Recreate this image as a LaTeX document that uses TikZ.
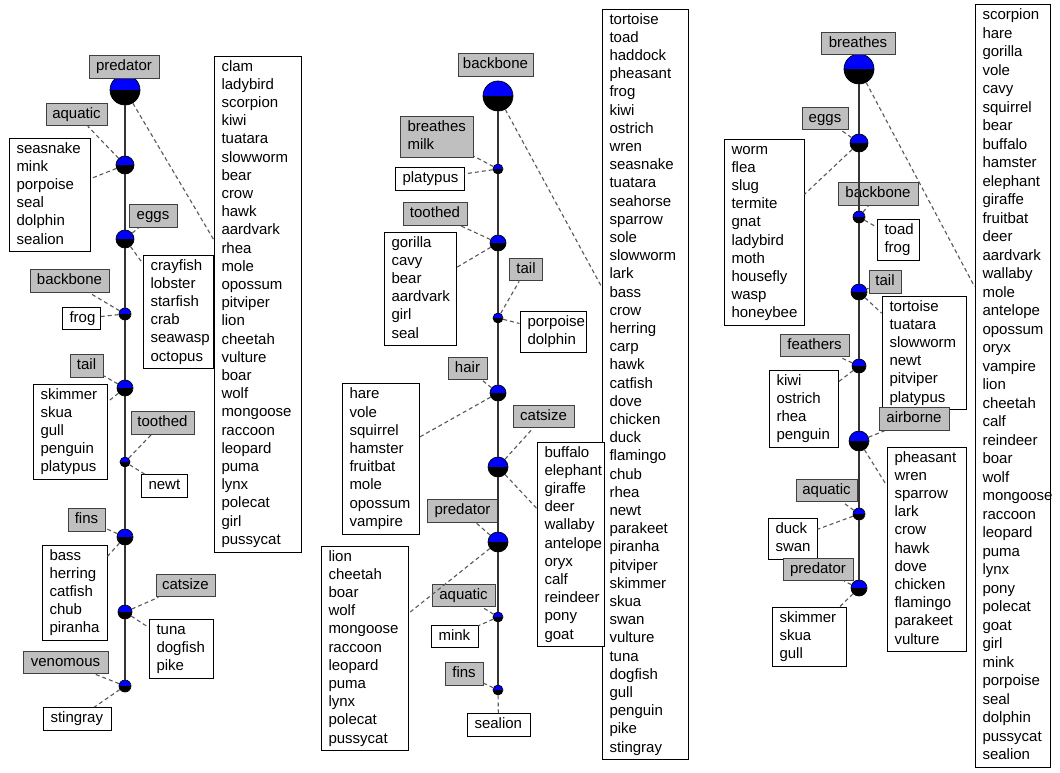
\documentclass[tikz,border=0pt]{standalone}
\usepackage{fontspec}
\setmainfont{Liberation Sans}
\usetikzlibrary{calc}
\begin{document}
\begin{tikzpicture}[x=1pt,y=-1pt,
  txt/.style={font=\fontsize{15}{18.2}\selectfont, execute at begin node={\hyphenpenalty=10000\strut}, execute at end node={\strut}, inner ysep=2.3pt},
  lbl/.style={txt, draw=black!75, fill=gray!50, line width=0.9pt, inner xsep=0pt, minimum width=#1},
  lst/.style={txt, draw=black, fill=white, line width=0.9pt, inner xsep=7.5pt, text width=#1, align=left},
  lst2/.style={lst=#1, draw=black!75, fill=gray!50},
  nd/.style={circle, draw=black, line width=0.7pt, inner sep=0pt, minimum size=#1,
    path picture={\fill[blue] (path picture bounding box.north west) rectangle (path picture bounding box.east);
                  \fill[black] (path picture bounding box.west) rectangle (path picture bounding box.south east);}},
  trunk/.style={draw=black!80, line width=1.3pt},
  dsh/.style={draw=black!65, line width=1.1pt, dash pattern=on 4pt off 3pt}
]
\fill[white] (0,0) rectangle (1060,773);
\useasboundingbox (0,0) rectangle (1060,773);

% ===== left tree =====
\node[nd=30] (L0) at (125,90) {};
\node[nd=18] (L1) at (125,165) {};
\node[nd=18] (L2) at (125,239) {};
\node[nd=12] (L3) at (125,314) {};
\node[nd=16] (L4) at (125,388) {};
\node[nd=10] (L5) at (125,462) {};
\node[nd=16] (L6) at (125,537) {};
\node[nd=14] (L7) at (125,612) {};
\node[nd=12] (L8) at (125,686) {};

\node[lbl=70] (Lpredl) at (124,67) {predator};
\node[lst=72pt] (Lbig) at (257.5,304) {clam\\ladybird\\scorpion\\kiwi\\tuatara\\slowworm\\bear\\crow\\hawk\\aardvark\\rhea\\mole\\opossum\\pitviper\\lion\\cheetah\\vulture\\boar\\wolf\\mongoose\\raccoon\\leopard\\puma\\lynx\\polecat\\girl\\pussycat};
\node[lbl=61] (Laql) at (76.5,114.5) {aquatic};
\node[lst=66pt] (Lsea) at (49.5,195) {seasnake\\mink\\porpoise\\seal\\dolphin\\sealion};
\node[lbl=48] (Leggl) at (153,216) {eggs};
\node[lst=55pt] (Lcray) at (178,312) {crayfish\\lobster\\starfish\\crab\\seawasp\\octopus};
\node[lbl=79] (Lbackl) at (69.5,281) {backbone};
\node[lst=23pt] (Lfrog) at (81,318.5) {frog};
\node[lbl=33] (Ltaill) at (86.5,366) {tail};
\node[lst=59pt] (Lskim) at (70,431.8) {skimmer\\skua\\gull\\penguin\\platypus};
\node[lbl=63] (Ltoothl) at (162.5,423) {toothed};
\node[lst=31pt] (Lnewt) at (164,486) {newt};
\node[lbl=37] (Lfinsl) at (86.5,520) {fins};
\node[lst=50pt] (Lbass) at (74.5,592.8) {bass\\herring\\catfish\\chub\\piranha};
\node[lbl=59] (Lcatl) at (185.5,585.5) {catsize};
\node[lst=49pt] (Ltuna) at (181,648.6) {tuna\\dogfish\\pike};
\node[lbl=85] (Lvenl) at (65.5,662.5) {venomous};
\node[lst=53pt] (Lsting) at (77,719) {stingray};

\draw[trunk] (L0)--(L1) (L1)--(L2) (L2)--(L3) (L3)--(L4) (L4)--(L5) (L5)--(L6) (L6)--(L7) (L7)--(L8);
\draw[dsh] (L0)--($(Lbig.north west)!0.37!(Lbig.south west)$);
\draw[dsh] (L1)--(Laql) (L1)--(Lsea);
\draw[dsh] (L2)--(Leggl) (L2)--(Lcray);
\draw[dsh] (L3)--(Lbackl) (L3)--(Lfrog);
\draw[dsh] (L4)--(Ltaill) (L4)--(Lskim);
\draw[dsh] (L5)--(Ltoothl) (L5)--(Lnewt);
\draw[dsh] (L6)--(Lfinsl) (L6)--(Lbass);
\draw[dsh] (L7)--(Lcatl) (L7)--(Ltuna);
\draw[dsh] (L8)--(Lvenl) (L8)--(Lsting);

% ===== middle tree =====
\node[nd=30] (M0) at (498,96) {};
\node[nd=10] (M1) at (498,169) {};
\node[nd=16] (M2) at (498,243) {};
\node[nd=10] (M3) at (498,318) {};
\node[nd=16] (M4) at (498,393) {};
\node[nd=20] (M5) at (498,467) {};
\node[nd=20] (M6) at (498,542) {};
\node[nd=10] (M7) at (498,617) {};
\node[nd=10] (M8) at (498,690) {};

\node[lbl=75] (Mbackl) at (495.5,65) {backbone};
\node[lst=71pt] (Mbig) at (645,384.5) {tortoise\\toad\\haddock\\pheasant\\frog\\kiwi\\ostrich\\wren\\seasnake\\tuatara\\seahorse\\sparrow\\sole\\slowworm\\lark\\bass\\crow\\herring\\carp\\hawk\\catfish\\dove\\chicken\\duck\\flamingo\\chub\\rhea\\newt\\parakeet\\piranha\\pitviper\\skimmer\\skua\\swan\\vulture\\tuna\\dogfish\\gull\\penguin\\pike\\stingray};
\node[lst2=58pt] (Mbrl) at (436.5,136.5) {breathes\\milk};
\node[lst=54pt] (Mplat) at (429.5,179) {platypus};
\node[lbl=64] (Mtoothl) at (435,214) {toothed};
\node[lst=57pt] (Mgor) at (420,289) {gorilla\\cavy\\bear\\aardvark\\girl\\seal};
\node[lbl=33] (Mtaill) at (526,269.5) {tail};
\node[lst=51pt] (Mpor) at (553,332) {porpoise\\dolphin};
\node[lbl=39] (Mhairl) at (467.5,368.5) {hair};
\node[lst=62pt] (Mhare) at (380.5,459) {hare\\vole\\squirrel\\hamster\\fruitbat\\mole\\opossum\\vampire};
\node[lbl=61] (Mcatl) at (543.5,416.5) {catsize};
\node[lst=52pt] (Mbuf) at (570.5,544.4) {buffalo\\elephant\\giraffe\\deer\\wallaby\\antelope\\oryx\\calf\\reindeer\\pony\\goat};
\node[lbl=71] (Mpredl) at (462.5,511) {predator};
\node[lst=72pt] (Mlion) at (364.5,648.4) {lion\\cheetah\\boar\\wolf\\mongoose\\raccoon\\leopard\\puma\\lynx\\polecat\\pussycat};
\node[lbl=63] (Maql) at (463.5,595.5) {aquatic};
\node[lst=32pt] (Mmink) at (454.5,636.5) {mink};
\node[lbl=38] (Mfinsl) at (464,674) {fins};
\node[lst=48pt] (Mseal) at (498.5,725) {sealion};

\draw[trunk] (M0)--(M1) (M1)--(M2) (M2)--(M3) (M3)--(M4) (M4)--(M5) (M5)--(M6) (M6)--(M7) (M7)--(M8);
\draw[dsh] (M0)--($(Mbig.north west)!0.37!(Mbig.south west)$);
\draw[dsh] (M1)--(Mbrl) (M1)--(Mplat);
\draw[dsh] (M2)--(Mtoothl) (M2)--(Mgor);
\draw[dsh] (M3)--(Mtaill) (M3)--(Mpor);
\draw[dsh] (M4)--(Mhairl) (M4)--(Mhare);
\draw[dsh] (M5)--(Mcatl) (M5)--(Mbuf);
\draw[dsh] (M6)--(Mpredl) (M6)--(Mlion);
\draw[dsh] (M7)--(Maql) (M7)--(Mmink);
\draw[dsh] (M8)--(Mfinsl) (M8)--(Mseal);

% ===== right tree =====
\node[nd=30] (R0) at (859,69) {};
\node[nd=18] (R1) at (859,143) {};
\node[nd=12] (R2) at (859,217) {};
\node[nd=16] (R3) at (859,292) {};
\node[nd=14] (R4) at (859,366) {};
\node[nd=20] (R5) at (859,441) {};
\node[nd=12] (R6) at (859,514) {};
\node[nd=16] (R7) at (859,588) {};

\node[lbl=74] (Rbrl) at (858,43.5) {breathes};
\node[lst=60pt, font=\fontsize{15}{18.5}\selectfont] (Rbig) at (1012.5,386) {scorpion\\hare\\gorilla\\vole\\cavy\\squirrel\\bear\\buffalo\\hamster\\elephant\\giraffe\\fruitbat\\deer\\aardvark\\wallaby\\mole\\antelope\\opossum\\oryx\\vampire\\lion\\cheetah\\calf\\reindeer\\boar\\wolf\\mongoose\\raccoon\\leopard\\puma\\lynx\\pony\\polecat\\goat\\girl\\mink\\porpoise\\seal\\dolphin\\pussycat\\sealion};
\node[lbl=46] (Reggl) at (825,118.5) {eggs};
\node[lst=65pt] (Rworm) at (764,232.3) {worm\\flea\\slug\\termite\\gnat\\ladybird\\moth\\housefly\\wasp\\honeybee};
\node[lbl=80] (Rbackl) at (878,194) {backbone};
\node[lst=27pt] (Rtoad) at (898,239.5) {toad\\frog};
\node[lbl=32] (Rtaill) at (885,282) {tail};
\node[lst=69pt] (Rtort) at (924,353) {tortoise\\tuatara\\slowworm\\newt\\pitviper\\platypus};
\node[lbl=69] (Rfeathl) at (814.5,345.5) {feathers};
\node[lst=54pt] (Rkiwi) at (803.5,408.7) {kiwi\\ostrich\\rhea\\penguin};
\node[lbl=70] (Rairl) at (914,419) {airborne};
\node[lst=64pt] (Rphea) at (926.5,549.4) {pheasant\\wren\\sparrow\\lark\\crow\\hawk\\dove\\chicken\\flamingo\\parakeet\\vulture};
\node[lbl=61] (Raql) at (826.5,490.5) {aquatic};
\node[lst=34pt] (Rduck) at (792.5,538.5) {duck\\swan};
\node[lbl=70] (Rpredl) at (818,569.5) {predator};
\node[lst=59pt] (Rskim) at (809,636.6) {skimmer\\skua\\gull};

\draw[trunk] (R0)--(R1) (R1)--(R2) (R2)--(R3) (R3)--(R4) (R4)--(R5) (R5)--(R6) (R6)--(R7);
\draw[dsh] (R0)--($(Rbig.north west)!0.37!(Rbig.south west)$);
\draw[dsh] (R1)--(Reggl) (R1)--(Rworm);
\draw[dsh] (R2)--(Rbackl) (R2)--(Rtoad);
\draw[dsh] (R3)--(Rtaill) (R3)--(Rtort);
\draw[dsh] (R4)--(Rfeathl) (R4)--(Rkiwi);
\draw[dsh] (R5)--(Rairl) (R5)--(Rphea);
\draw[dsh] (R6)--(Raql) (R6)--(Rduck);
\draw[dsh] (R7)--(Rpredl) (R7)--(Rskim);
\end{tikzpicture}
\end{document}
